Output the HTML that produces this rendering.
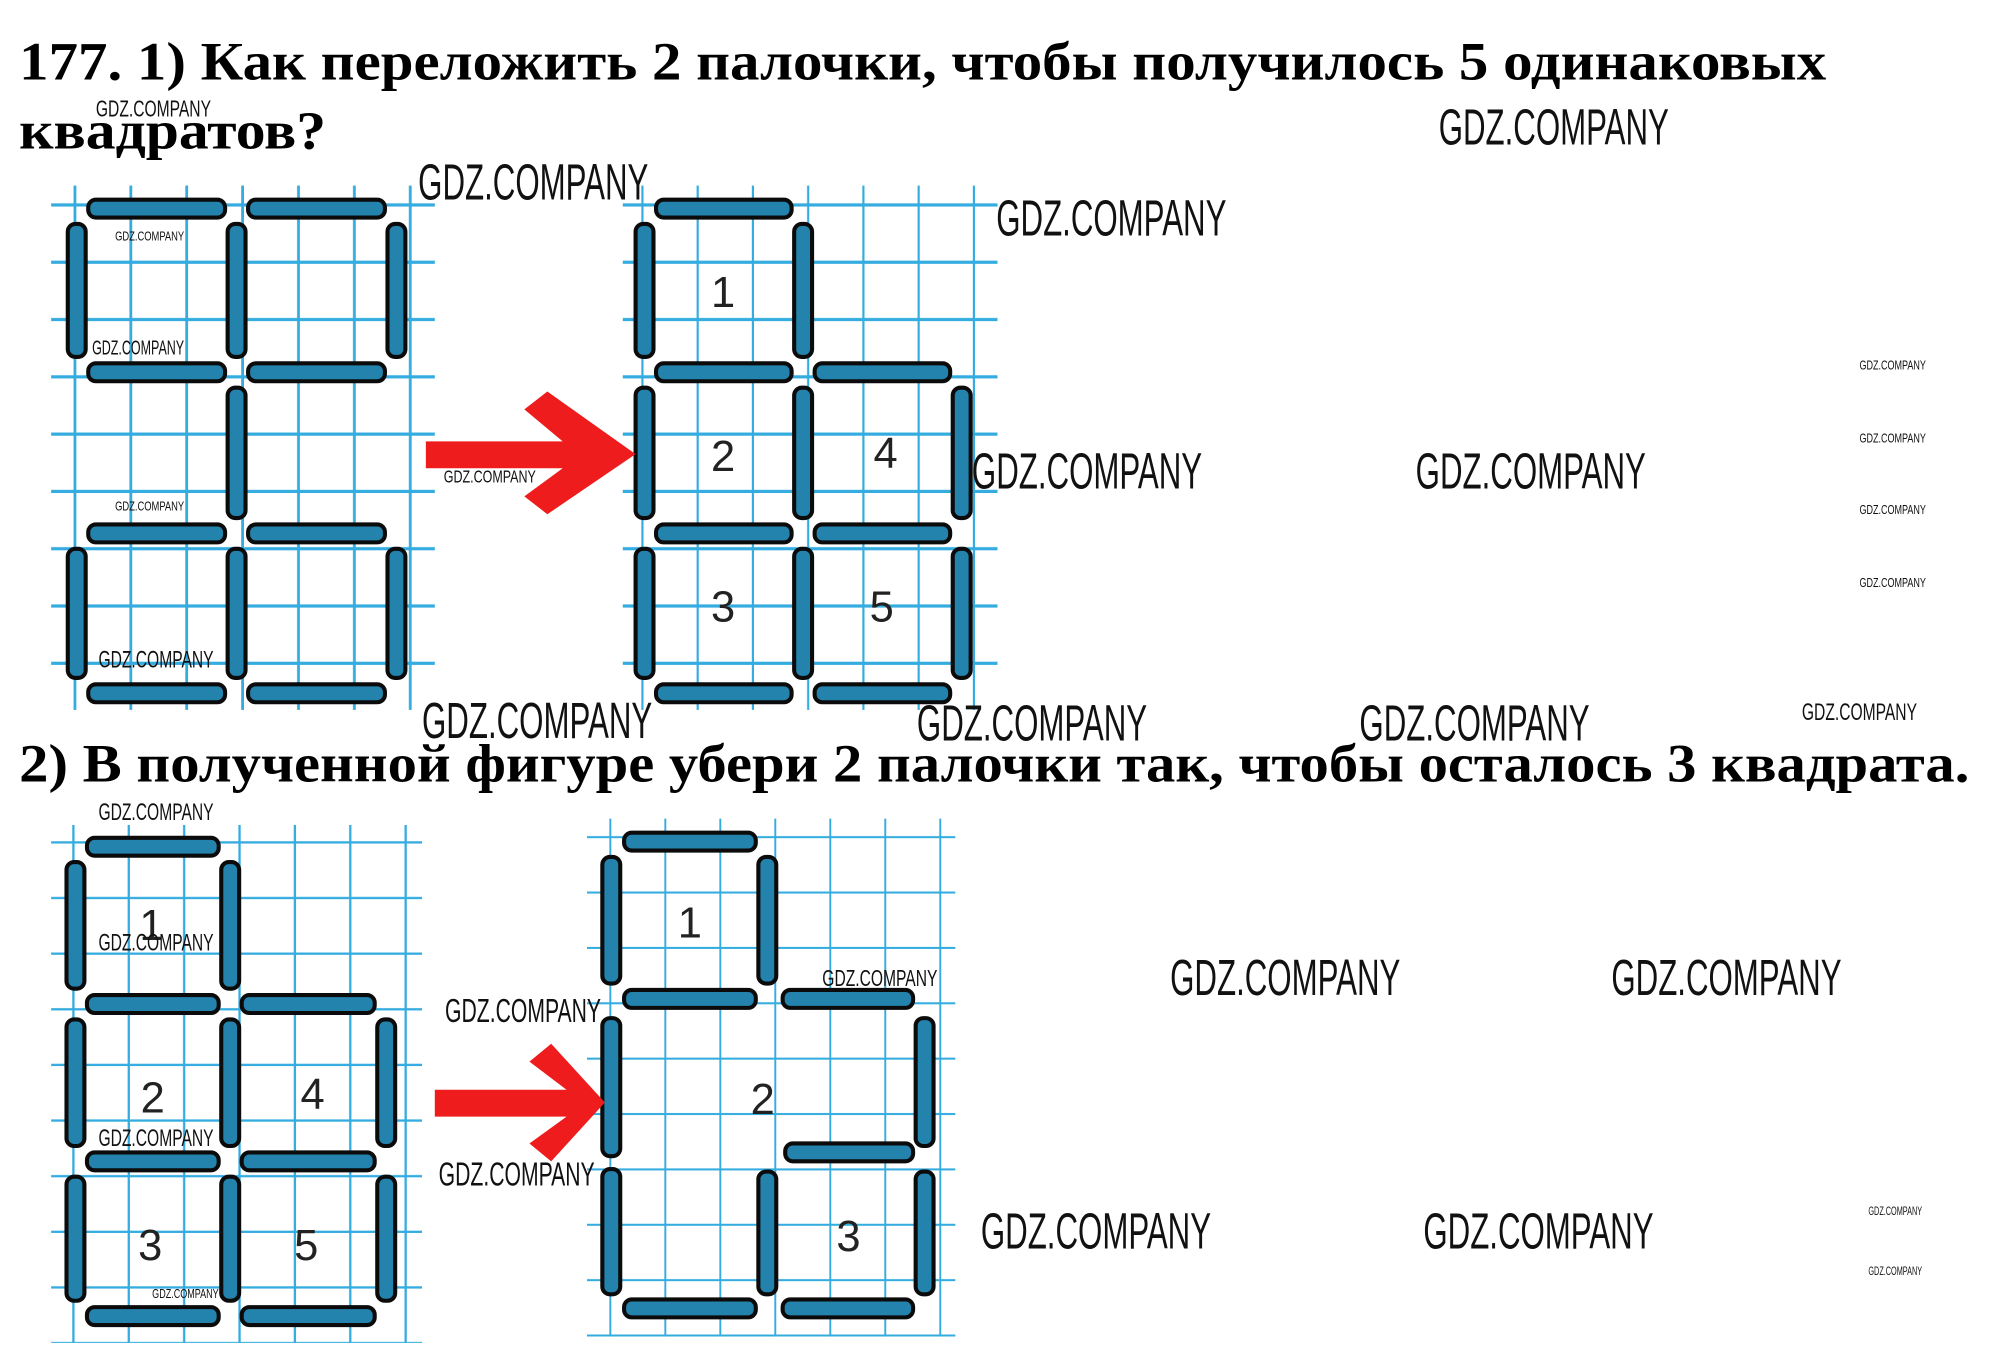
<!DOCTYPE html>
<html><head><meta charset="utf-8"><style>
html,body{margin:0;padding:0;background:#fff;}
svg{display:block;}
.t{font-family:"Liberation Serif","Noto Serif CJK SC",serif;font-weight:bold;fill:#000;}
.w{font-family:"Liberation Sans",sans-serif;fill:#111;}
.n{font-family:"Liberation Sans",sans-serif;fill:#222;font-size:34px;}
.s rect{fill:#2383ad;stroke:#0b0b0b;stroke-width:3.2;}
</style></head><body>
<svg width="1995" height="1361" viewBox="0 0 1560 1064" xmlns="http://www.w3.org/2000/svg">
<defs>
<pattern id="g1" x="16" y="27" width="43.7" height="44.8" patternUnits="userSpaceOnUse"><rect x="41.5" y="0" width="4.6" height="44.8" fill="#34ace0"/><rect x="0" y="42.3" width="43.7" height="4.6" fill="#34ace0"/></pattern>
<pattern id="g2" x="460" y="27" width="43.2" height="44.8" patternUnits="userSpaceOnUse"><rect x="41.5" y="0" width="4.6" height="44.8" fill="#34ace0"/><rect x="0" y="42.3" width="43.2" height="4.6" fill="#34ace0"/></pattern>
<pattern id="g3" x="15" y="616" width="43.3" height="43.5" patternUnits="userSpaceOnUse"><rect x="41.5" y="0" width="4.6" height="43.5" fill="#34ace0"/><rect x="0" y="41.7" width="43.3" height="4.6" fill="#34ace0"/></pattern>
<pattern id="g4" x="435" y="612" width="43" height="43.3" patternUnits="userSpaceOnUse"><rect x="41.5" y="0" width="4.6" height="43.3" fill="#34ace0"/><rect x="0" y="41.7" width="43" height="4.6" fill="#34ace0"/></pattern>
</defs>
<rect width="1560" height="1064" fill="#fff"/>
<rect x="40" y="145" width="300" height="410" fill="url(#g1)"/>
<rect x="487" y="145" width="293" height="410" fill="url(#g2)"/>
<rect x="40" y="645" width="290" height="405" fill="url(#g3)"/>
<rect x="459" y="640" width="288" height="405" fill="url(#g4)"/>

<text class="t" x="15" y="62" font-size="42" textLength="1413" lengthAdjust="spacingAndGlyphs">177. 1) Как переложить 2 палочки, чтобы получилось 5 одинаковых</text>
<text class="t" x="15" y="116" font-size="42" textLength="240" lengthAdjust="spacingAndGlyphs">квадратов?</text>
<text class="t" x="15" y="611" font-size="42" textLength="1525" lengthAdjust="spacingAndGlyphs">2) В полученной фигуре убери 2 палочки так, чтобы осталось 3 квадрата.</text>

<!-- Fig1 left -->
<g class="s">
<rect x="69" y="156" width="107" height="14" rx="6"/><rect x="194" y="156" width="107" height="14" rx="6"/>
<rect x="69" y="284" width="107" height="14" rx="6"/><rect x="194" y="284" width="107" height="14" rx="6"/>
<rect x="69" y="410" width="107" height="14" rx="6"/><rect x="194" y="410" width="107" height="14" rx="6"/>
<rect x="69" y="535" width="107" height="14" rx="6"/><rect x="194" y="535" width="107" height="14" rx="6"/>
<rect x="53" y="175" width="14" height="104" rx="6"/><rect x="53" y="429" width="14" height="101" rx="6"/>
<rect x="178" y="175" width="14" height="104" rx="6"/><rect x="178" y="303" width="14" height="102" rx="6"/><rect x="178" y="429" width="14" height="101" rx="6"/>
<rect x="303" y="175" width="14" height="104" rx="6"/><rect x="303" y="429" width="14" height="101" rx="6"/>
</g>
<!-- Fig1 right -->
<g class="s">
<rect x="513" y="156" width="106" height="14" rx="6"/>
<rect x="513" y="284" width="106" height="14" rx="6"/><rect x="637" y="284" width="106" height="14" rx="6"/>
<rect x="513" y="410" width="106" height="14" rx="6"/><rect x="637" y="410" width="106" height="14" rx="6"/>
<rect x="513" y="535" width="106" height="14" rx="6"/><rect x="637" y="535" width="106" height="14" rx="6"/>
<rect x="497" y="175" width="14" height="104" rx="6"/><rect x="497" y="303" width="14" height="102" rx="6"/><rect x="497" y="429" width="14" height="101" rx="6"/>
<rect x="621" y="175" width="14" height="104" rx="6"/><rect x="621" y="303" width="14" height="102" rx="6"/><rect x="621" y="429" width="14" height="101" rx="6"/>
<rect x="745" y="303" width="14" height="102" rx="6"/><rect x="745" y="429" width="14" height="101" rx="6"/>
</g>
<!-- Fig2 left -->
<g class="s">
<rect x="68" y="655" width="103" height="14" rx="6"/>
<rect x="68" y="778" width="103" height="14" rx="6"/><rect x="189" y="778" width="104" height="14" rx="6"/>
<rect x="68" y="901" width="103" height="14" rx="6"/><rect x="189" y="901" width="104" height="14" rx="6"/>
<rect x="68" y="1022" width="103" height="14" rx="6"/><rect x="189" y="1022" width="104" height="14" rx="6"/>
<rect x="52" y="674" width="14" height="99" rx="6"/><rect x="52" y="797" width="14" height="99" rx="6"/><rect x="52" y="920" width="14" height="97" rx="6"/>
<rect x="173" y="674" width="14" height="99" rx="6"/><rect x="173" y="797" width="14" height="99" rx="6"/><rect x="173" y="920" width="14" height="97" rx="6"/>
<rect x="295" y="797" width="14" height="99" rx="6"/><rect x="295" y="920" width="14" height="97" rx="6"/>
</g>
<!-- Fig2 right -->
<g class="s">
<rect x="488" y="651" width="103" height="14" rx="6"/>
<rect x="488" y="774" width="103" height="14" rx="6"/><rect x="612" y="774" width="102" height="14" rx="6"/>
<rect x="614" y="894" width="100" height="14" rx="6"/>
<rect x="488" y="1016" width="103" height="14" rx="6"/><rect x="612" y="1016" width="102" height="14" rx="6"/>
<rect x="471" y="670" width="14" height="99" rx="6"/><rect x="471" y="796" width="14" height="108" rx="6"/><rect x="471" y="914" width="14" height="98" rx="6"/>
<rect x="593" y="670" width="14" height="99" rx="6"/><rect x="593" y="916" width="14" height="96" rx="6"/>
<rect x="716" y="796" width="14" height="100" rx="6"/><rect x="716" y="916" width="14" height="96" rx="6"/>
</g>

<!-- arrows -->
<polygon fill="#ee1c1c" points="333,345 440,345 410,320 428,306 497,355 428,402 410,388 440,366 333,366"/>
<polygon fill="#ee1c1c" points="340,852 443,852 414,830 431,816 473,862 431,908 414,894 443,873 340,873"/>

<!-- numbers -->
<text class="n" x="556" y="240">1</text>
<text class="n" x="556" y="368">2</text>
<text class="n" x="683" y="366">4</text>
<text class="n" x="556" y="486">3</text>
<text class="n" x="680" y="486">5</text>
<text class="n" x="109" y="735">1</text>
<text class="n" x="110" y="870">2</text>
<text class="n" x="235" y="867">4</text>
<text class="n" x="108" y="985">3</text>
<text class="n" x="230" y="985">5</text>
<text class="n" x="530" y="733">1</text>
<text class="n" x="587" y="871">2</text>
<text class="n" x="654" y="978">3</text>

<!-- watermarks -->
<g class="w">
<text x="327" y="156" font-size="40" textLength="180" lengthAdjust="spacingAndGlyphs">GDZ.COMPANY</text>
<text x="1125" y="113" font-size="40" textLength="180" lengthAdjust="spacingAndGlyphs">GDZ.COMPANY</text>
<text x="779" y="184" font-size="40" textLength="180" lengthAdjust="spacingAndGlyphs">GDZ.COMPANY</text>
<text x="760" y="382" font-size="40" textLength="180" lengthAdjust="spacingAndGlyphs">GDZ.COMPANY</text>
<text x="1107" y="382" font-size="40" textLength="180" lengthAdjust="spacingAndGlyphs">GDZ.COMPANY</text>
<text x="330" y="577" font-size="40" textLength="180" lengthAdjust="spacingAndGlyphs">GDZ.COMPANY</text>
<text x="717" y="579" font-size="40" textLength="180" lengthAdjust="spacingAndGlyphs">GDZ.COMPANY</text>
<text x="1063" y="579" font-size="40" textLength="180" lengthAdjust="spacingAndGlyphs">GDZ.COMPANY</text>
<text x="915" y="778" font-size="40" textLength="180" lengthAdjust="spacingAndGlyphs">GDZ.COMPANY</text>
<text x="1260" y="778" font-size="40" textLength="180" lengthAdjust="spacingAndGlyphs">GDZ.COMPANY</text>
<text x="767" y="976" font-size="40" textLength="180" lengthAdjust="spacingAndGlyphs">GDZ.COMPANY</text>
<text x="1113" y="976" font-size="40" textLength="180" lengthAdjust="spacingAndGlyphs">GDZ.COMPANY</text>
<text x="75" y="91" font-size="18" textLength="90" lengthAdjust="spacingAndGlyphs">GDZ.COMPANY</text>
<text x="90" y="188" font-size="10" textLength="54" lengthAdjust="spacingAndGlyphs">GDZ.COMPANY</text>
<text x="72" y="277" font-size="16" textLength="72" lengthAdjust="spacingAndGlyphs">GDZ.COMPANY</text>
<text x="90" y="399" font-size="10" textLength="54" lengthAdjust="spacingAndGlyphs">GDZ.COMPANY</text>
<text x="77" y="522" font-size="19" textLength="90" lengthAdjust="spacingAndGlyphs">GDZ.COMPANY</text>
<text x="347" y="377" font-size="14" textLength="72" lengthAdjust="spacingAndGlyphs">GDZ.COMPANY</text>
<text x="1454" y="289" font-size="10" textLength="52" lengthAdjust="spacingAndGlyphs">GDZ.COMPANY</text>
<text x="1454" y="346" font-size="10" textLength="52" lengthAdjust="spacingAndGlyphs">GDZ.COMPANY</text>
<text x="1454" y="402" font-size="10" textLength="52" lengthAdjust="spacingAndGlyphs">GDZ.COMPANY</text>
<text x="1454" y="459" font-size="10" textLength="52" lengthAdjust="spacingAndGlyphs">GDZ.COMPANY</text>
<text x="1409" y="563" font-size="19" textLength="90" lengthAdjust="spacingAndGlyphs">GDZ.COMPANY</text>
<text x="77" y="641" font-size="19" textLength="90" lengthAdjust="spacingAndGlyphs">GDZ.COMPANY</text>
<text x="77" y="743" font-size="19" textLength="90" lengthAdjust="spacingAndGlyphs">GDZ.COMPANY</text>
<text x="348" y="799" font-size="26" textLength="122" lengthAdjust="spacingAndGlyphs">GDZ.COMPANY</text>
<text x="643" y="771" font-size="18" textLength="90" lengthAdjust="spacingAndGlyphs">GDZ.COMPANY</text>
<text x="77" y="896" font-size="19" textLength="90" lengthAdjust="spacingAndGlyphs">GDZ.COMPANY</text>
<text x="343" y="927" font-size="26" textLength="122" lengthAdjust="spacingAndGlyphs">GDZ.COMPANY</text>
<text x="119" y="1015" font-size="10" textLength="52" lengthAdjust="spacingAndGlyphs">GDZ.COMPANY</text>
<text x="1461" y="950" font-size="9" textLength="42" lengthAdjust="spacingAndGlyphs">GDZ.COMPANY</text>
<text x="1461" y="997" font-size="9" textLength="42" lengthAdjust="spacingAndGlyphs">GDZ.COMPANY</text>
</g>
</svg>
</body></html>
